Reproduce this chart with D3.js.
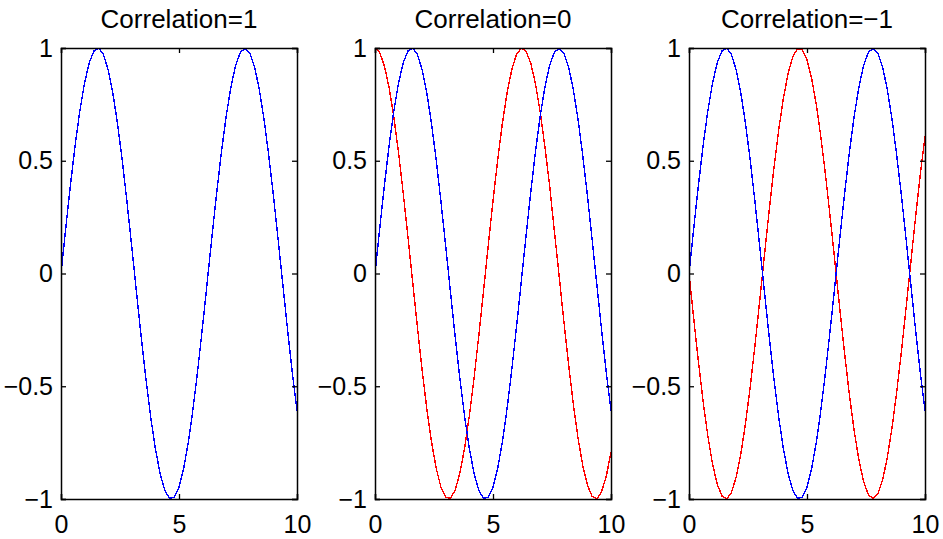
<!DOCTYPE html>
<html>
<head>
<meta charset="utf-8">
<script src="https://cdn.jsdelivr.net/npm/d3@7"></script>
<style>
  html, body { margin: 0; padding: 0; background: #fff; }
  svg { display: block; }
  text { font-family: "Liberation Sans", Arial, Helvetica, sans-serif; fill: #000; }
</style>
</head>
<body>
<svg id="chart" width="943" height="539"></svg>
<script>
// Sample positions along the horizontal axis
const xs = [0, 0.2, 0.4, 0.6, 0.8, 1, 1.2, 1.4, 1.6, 1.8, 2, 2.2, 2.4, 2.6, 2.8, 3, 3.2, 3.4, 3.6, 3.8,
  4, 4.2, 4.4, 4.6, 4.8, 5, 5.2, 5.4, 5.6, 5.8, 6, 6.2, 6.4, 6.6, 6.8, 7, 7.2, 7.4, 7.6, 7.8,
  8, 8.2, 8.4, 8.6, 8.8, 9, 9.2, 9.4, 9.6, 9.8, 10];

// Reference signal (blue in every panel)
const signalA = [0, 0.200, 0.392, 0.569, 0.722, 0.846, 0.936, 0.987, 0.999, 0.971, 0.903, 0.798, 0.661, 0.498, 0.314, 0.117,
  -0.084, -0.282, -0.468, -0.636, -0.777, -0.888, -0.962, -0.997, -0.992, -0.947, -0.863, -0.745, -0.596, -0.423, -0.233,
  -0.034, 0.167, 0.361, 0.541, 0.698, 0.827, 0.923, 0.981, 0.998, 0.978, 0.917, 0.818, 0.686, 0.526, 0.346, 0.151,
  -0.050, -0.249, -0.438, -0.609];

// Second signal, one per panel (red)
const signalSame = [0, 0.200, 0.392, 0.569, 0.722, 0.846, 0.936, 0.987, 0.999, 0.971, 0.903, 0.798, 0.661, 0.498, 0.314, 0.117,
  -0.084, -0.282, -0.468, -0.636, -0.777, -0.888, -0.962, -0.997, -0.992, -0.947, -0.863, -0.745, -0.596, -0.423, -0.233,
  -0.034, 0.167, 0.361, 0.541, 0.698, 0.827, 0.923, 0.981, 0.998, 0.978, 0.917, 0.818, 0.686, 0.526, 0.346, 0.151,
  -0.050, -0.249, -0.438, -0.609];
const signalQuadrature = [1, 0.980, 0.920, 0.823, 0.692, 0.534, 0.353, 0.159, -0.042, -0.241, -0.431, -0.603, -0.750, -0.867,
  -0.950, -0.993, -0.997, -0.960, -0.884, -0.772, -0.629, -0.461, -0.274, -0.076, 0.126, 0.322, 0.505, 0.668, 0.803,
  0.906, 0.973, 0.999, 0.986, 0.933, 0.841, 0.716, 0.562, 0.389, 0.188, -0.008, -0.209, -0.400, -0.576, -0.728, -0.850,
  -0.938, -0.989, -0.999, -0.968, -0.899, -0.793];
const signalOpposite = [0, -0.200, -0.392, -0.569, -0.722, -0.846, -0.936, -0.987, -0.999, -0.971, -0.903, -0.798, -0.661,
  -0.498, -0.314, -0.117, 0.084, 0.282, 0.468, 0.636, 0.777, 0.888, 0.962, 0.997, 0.992, 0.947, 0.863, 0.745, 0.596,
  0.423, 0.233, 0.034, -0.167, -0.361, -0.541, -0.698, -0.827, -0.923, -0.981, -0.998, -0.978, -0.917, -0.818, -0.686,
  -0.526, -0.346, -0.151, 0.050, 0.249, 0.438, 0.609];

const titles = ["Correlation=1", "Correlation=0", "Correlation=\u22121"];
const redSeries = [signalSame, signalQuadrature, signalOpposite];
const xTicks = [0, 5, 10];
const yTicks = [-1, -0.5, 0, 0.5, 1];

const svg = d3.select("#chart");
const panelLeft = [61, 375, 689];
const panelW = 236;
const plotTop = 48, plotBottom = 499;
const tickLen = 5;
const fmt = v => (v < 0 ? "\u2212" : "") + String(Math.abs(v));

const y = d3.scaleLinear().domain([-1, 1]).range([plotBottom, plotTop]);

panelLeft.forEach((left, i) => {
  const x = d3.scaleLinear().domain([0, 10]).range([left, left + panelW]);
  const g = svg.append("g");

  const clipId = "clip" + i;
  svg.append("clipPath").attr("id", clipId)
    .append("rect").attr("x", left).attr("y", plotTop - 1).attr("width", panelW).attr("height", plotBottom - plotTop + 2);

  const line = d3.line().x((d, k) => x(xs[k])).y(d => y(d));

  // Red trace first, blue drawn over it
  const curves = g.append("g").attr("clip-path", `url(#${clipId})`);
  curves.append("path").datum(redSeries[i])
    .attr("d", line).attr("fill", "none").attr("stroke", "#ff0000").attr("stroke-width", 1.4)
    .attr("shape-rendering", "crispEdges");
  curves.append("path").datum(signalA)
    .attr("d", line).attr("fill", "none").attr("stroke", "#0000ff").attr("stroke-width", 1.4)
    .attr("shape-rendering", "crispEdges");

  // Axes: ticks point inward on all four sides
  const axB = g.append("g").attr("transform", `translate(0,${plotBottom})`)
    .call(d3.axisBottom(x).tickValues(xTicks).tickSize(-tickLen).tickPadding(16).tickFormat(fmt));
  const axT = g.append("g").attr("transform", `translate(0,${plotTop})`)
    .call(d3.axisTop(x).tickValues(xTicks).tickSize(-tickLen).tickFormat(""));
  const axL = g.append("g").attr("transform", `translate(${left},0)`)
    .call(d3.axisLeft(y).tickValues(yTicks).tickSize(-tickLen).tickPadding(8).tickFormat(fmt));
  const axR = g.append("g").attr("transform", `translate(${left + panelW},0)`)
    .call(d3.axisRight(y).tickValues(yTicks).tickSize(-tickLen).tickFormat(""));

  [axB, axT, axL, axR].forEach(a => {
    a.select(".domain").attr("stroke", "#000").attr("stroke-width", 1.5);
    a.selectAll(".tick line").attr("stroke", "#000").attr("stroke-width", 1.3);
    a.selectAll(".tick text").attr("font-size", 25).attr("fill", "#000")
      .style("font-family", '"Liberation Sans", Arial, sans-serif');
  });
  axB.selectAll(".tick text").attr("dy", "0.71em");

  g.append("text")
    .attr("x", left + panelW / 2).attr("y", 28)
    .attr("text-anchor", "middle").attr("font-size", 26)
    .text(titles[i]);
});
</script>
</body>
</html>
